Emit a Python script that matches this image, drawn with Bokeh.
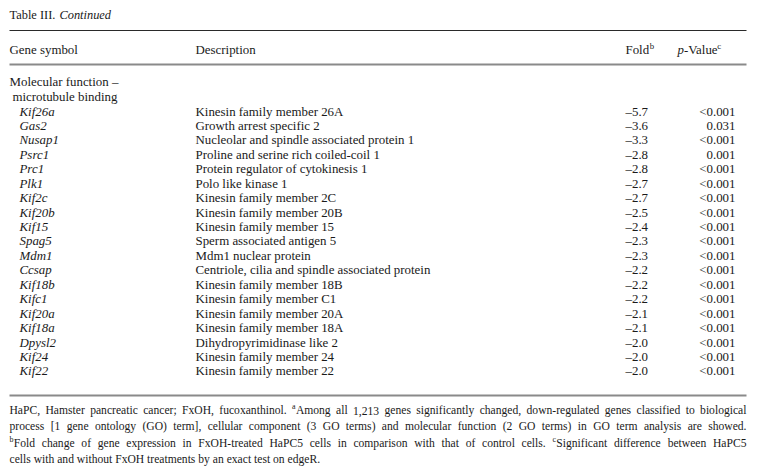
from bokeh.plotting import figure
from bokeh.models import ColumnDataSource, Range1d
from bokeh.core.properties import value
from bokeh.embed import file_html
from bokeh.resources import INLINE

# ---------------- data ----------------
title_roman = "Table III."
title_italic = "Continued"
header_gene = "Gene symbol"
header_desc = "Description"
header_fold = "Fold"
header_fold_sup = "b"
header_p_italic = "p"
header_p_rest = "-Value"
header_p_sup = "c"
category_lines = ["Molecular function \u2013", "microtubule binding"]

genes = ["Kif26a", "Gas2", "Nusap1", "Psrc1", "Prc1", "Plk1", "Kif2c", "Kif20b",
         "Kif15", "Spag5", "Mdm1", "Ccsap", "Kif18b", "Kifc1", "Kif20a", "Kif18a",
         "Dpysl2", "Kif24", "Kif22"]
descriptions = ["Kinesin family member 26A", "Growth arrest specific 2",
                "Nucleolar and spindle associated protein 1",
                "Proline and serine rich coiled-coil 1",
                "Protein regulator of cytokinesis 1", "Polo like kinase 1",
                "Kinesin family member 2C", "Kinesin family member 20B",
                "Kinesin family member 15", "Sperm associated antigen 5",
                "Mdm1 nuclear protein",
                "Centriole, cilia and spindle associated protein",
                "Kinesin family member 18B", "Kinesin family member C1",
                "Kinesin family member 20A", "Kinesin family member 18A",
                "Dihydropyrimidinase like 2", "Kinesin family member 24",
                "Kinesin family member 22"]
fold = [-5.7, -3.6, -3.3, -2.8, -2.8, -2.7, -2.7, -2.5, -2.4, -2.3, -2.3, -2.2,
        -2.2, -2.2, -2.1, -2.1, -2.0, -2.0, -2.0]
pvalues = ["<0.001", "0.031", "<0.001", "0.001", "<0.001", "<0.001", "<0.001",
           "<0.001", "<0.001", "<0.001", "<0.001", "<0.001", "<0.001", "<0.001",
           "<0.001", "<0.001", "<0.001", "<0.001", "<0.001"]

# '^x' marks a superscript character x attached to the following word
footnote_lines = [
    "HaPC, Hamster pancreatic cancer; FxOH, fucoxanthinol. ^aAmong all 1,213 genes significantly changed, down-regulated genes classified to biological",
    "process [1 gene ontology (GO) term], cellular component (3 GO terms) and molecular function (2 GO terms) in GO term analysis are showed.",
    "^bFold change of gene expression in FxOH-treated HaPC5 cells in comparison with that of control cells. ^cSignificant difference between HaPC5",
    "cells with and without FxOH treatments by an exact test on edgeR.",
]
footnote_justified = [True, True, True, False]

# ---------------- font metrics (Times / Liberation Serif) ----------------
TR = {' ': 250, '!': 333, '"': 408, '#': 500, '$': 500, '%': 833, '&': 778, "'": 180,
      '(': 333, ')': 333, '*': 500, '+': 564, ',': 250, '-': 333, '.': 250, '/': 278,
      ':': 278, ';': 278, '<': 564, '=': 564, '>': 564, '?': 444, '@': 921,
      'A': 722, 'B': 667, 'C': 667, 'D': 722, 'E': 611, 'F': 556, 'G': 722, 'H': 722,
      'I': 333, 'J': 389, 'K': 722, 'L': 611, 'M': 889, 'N': 722, 'O': 722, 'P': 556,
      'Q': 722, 'R': 667, 'S': 556, 'T': 611, 'U': 722, 'V': 722, 'W': 944, 'X': 722,
      'Y': 722, 'Z': 611, '[': 333, '\\': 278, ']': 333, '_': 500,
      'a': 444, 'b': 500, 'c': 444, 'd': 500, 'e': 444, 'f': 333, 'g': 500, 'h': 500,
      'i': 278, 'j': 278, 'k': 500, 'l': 278, 'm': 778, 'n': 500, 'o': 500, 'p': 500,
      'q': 500, 'r': 333, 's': 389, 't': 278, 'u': 500, 'v': 500, 'w': 722, 'x': 500,
      'y': 500, 'z': 444, '\u2013': 500}
for d in "0123456789":
    TR[d] = 500
TI = dict(TR)
TI.update({'C': 667, 'o': 500, 'n': 500, 't': 278, 'i': 278, 'u': 500, 'e': 444,
           'd': 500, 'p': 500})


def tw(s, fs, italic=False):
    tab = TI if italic else TR
    return sum(tab.get(c, 500) for c in s) / 1000.0 * fs


# ---------------- layout ----------------
W, H = 758, 474
XL, XR = 9, 746
FONT = "Liberation Serif"
FS = 12.9
FS_TITLE = 12.4
FS_SUP = 8.8
FS_FOOT = 11.6
FS_FOOT_SUP = 8.0
SUP_RAISE = 4.0

Y_TITLE = 14
Y_RULE1 = 30
Y_HEADER = 49
Y_RULE2 = 64
Y_CAT0 = 81
CAT_STEP = 15
CAT_INDENT = [0, 3]
Y_ROW0 = 111
ROW_STEP = 14.44
Y_RULE3 = 395
Y_FOOT0 = 410
FOOT_STEP = 16.3

X_GENE = 19
X_DESC = 195
X_FOLD = 625
X_PRIGHT = 735
X_PHEAD = 677

p = figure(width=W, height=H, x_range=Range1d(0, W), y_range=Range1d(H, 0),
           x_axis_type=None, y_axis_type=None, toolbar_location=None,
           output_backend="svg", min_border=0)
p.grid.visible = False
p.outline_line_color = None
p.background_fill_color = "white"
p.border_fill_color = "white"


def add_text(xs, ys, texts, size, align="left", style="normal", color="#1a1a1a"):
    src = ColumnDataSource(dict(x=xs, y=ys, text=texts))
    p.text(x="x", y="y", text="text", source=src, text_font=value(FONT),
           text_font_size=value(f"{size}px"), text_align=align,
           text_baseline="middle", text_font_style=style, text_color=color)


# title
add_text([XL], [Y_TITLE], [title_roman], FS_TITLE)
add_text([XL + tw(title_roman + " ", FS_TITLE)], [Y_TITLE], [title_italic], FS_TITLE,
         style="italic")

# rules
p.segment(x0=[XL], x1=[XR], y0=[Y_RULE1], y1=[Y_RULE1], line_color="#2a2a2a", line_width=1.2)
p.segment(x0=[XL, XL], x1=[XR, XR], y0=[Y_RULE2, Y_RULE3], y1=[Y_RULE2, Y_RULE3],
          line_color="#8a8a8a", line_width=2.2)

# header
add_text([XL, X_DESC, X_FOLD], [Y_HEADER] * 3, [header_gene, header_desc, header_fold], FS)
add_text([X_FOLD + tw(header_fold, FS) + 0.5], [Y_HEADER - SUP_RAISE], [header_fold_sup], FS_SUP)
add_text([X_PHEAD], [Y_HEADER], [header_p_italic], FS, style="italic")
xr = X_PHEAD + tw(header_p_italic, FS, True)
add_text([xr], [Y_HEADER], [header_p_rest], FS)
xr += tw(header_p_rest, FS) - 1.8
add_text([xr], [Y_HEADER - SUP_RAISE], [header_p_sup], FS_SUP)

# category
add_text([XL + CAT_INDENT[i] for i in range(len(category_lines))],
         [Y_CAT0 + i * CAT_STEP for i in range(len(category_lines))],
         category_lines, FS)

# rows
row_y = [Y_ROW0 + i * ROW_STEP for i in range(len(genes))]
add_text([X_GENE] * len(genes), row_y, genes, FS, style="italic")
add_text([X_DESC] * len(genes), row_y, descriptions, FS)
add_text([X_FOLD] * len(genes), row_y,
         ["\u2013" + f"{abs(v):.1f}" for v in fold], FS)
add_text([X_PRIGHT] * len(genes), row_y, pvalues, FS, align="right")

# footnotes (justified lines)
nx, ny, nt, sx, sy, st = [], [], [], [], [], []
for li, line in enumerate(footnote_lines):
    y = Y_FOOT0 + li * FOOT_STEP
    words = line.split(" ")
    parsed = []
    for w in words:
        segs = []
        while w:
            if w.startswith("^"):
                segs.append((w[1], True))
                w = w[2:]
            else:
                j = w.find("^")
                if j < 0:
                    segs.append((w, False))
                    w = ""
                else:
                    segs.append((w[:j], False))
                    w = w[j:]
        parsed.append(segs)
    widths = [sum(tw(t, FS_FOOT_SUP if s else FS_FOOT) + (0.3 if s else 0) for t, s in segs)
              for segs in parsed]
    if footnote_justified[li] and len(parsed) > 1:
        gap = (XR - XL - sum(widths)) / (len(parsed) - 1)
    else:
        gap = tw(" ", FS_FOOT)
    x = XL
    for segs, wd in zip(parsed, widths):
        xx = x
        for t, s in segs:
            if s:
                sx.append(xx); sy.append(y - SUP_RAISE); st.append(t)
                xx += tw(t, FS_FOOT_SUP) + 0.3
            else:
                nx.append(xx); ny.append(y); nt.append(t)
                xx += tw(t, FS_FOOT)
        x += wd + gap
add_text(nx, ny, nt, FS_FOOT)
add_text(sx, sy, st, FS_FOOT_SUP)

open("out.html", "w").write(file_html(p, INLINE))
